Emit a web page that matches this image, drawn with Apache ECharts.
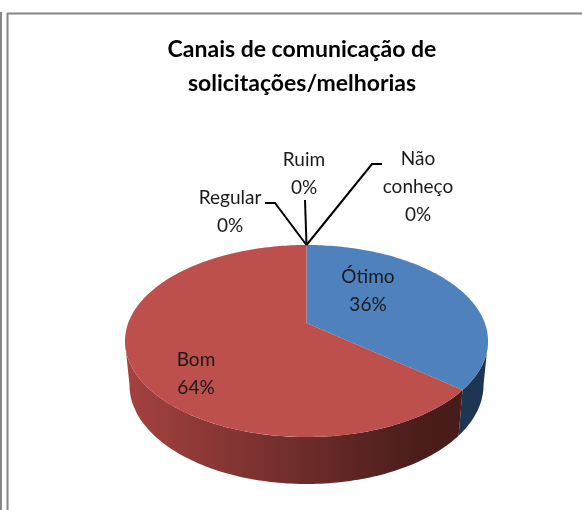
<!DOCTYPE html>
<html>
<head>
<meta charset="utf-8">
<style>html,body{margin:0;padding:0;background:#fff}#c{width:582px;height:510px}</style>
<script src="https://cdn.jsdelivr.net/npm/echarts@6/dist/echarts.min.js"></script>
</head>
<body>
<div id="c"></div>
<script>
const titleLines = ['Canais de comunicação de', 'solicitações/melhorias'];
const categories = ['Ótimo', 'Bom', 'Regular', 'Ruim', 'Não\nconheço'];
const values = [36, 64, 0, 0, 0];
const topColors = ['#4f81bd', '#bd4f4c', '#9bbb59', '#8064a2', '#4bacc6'];

// Placement of the hand-positioned labels and their leader lines
const labelAt = [[368, 291], [196, 374], [230, 212], [304, 174], [418, 186.5]];
const leaderVia = [null, null, [[275, 203], [265, 203]], [[305, 200]], [[372, 164], [382, 164]]];

// Perspective view of the disc
const view = { cx: 306.5, r: 178.3, b: 323, a: 32.06, c: -0.1875,
               ecy: 341, erx: 181.5, ery: 96, bcy: 385, brx: 177, bry: 99 };

function topPoint(t) {
  const u = Math.sin(t), v = -Math.cos(t), w = 1 + view.c * v;
  return [view.cx + view.r * u / w, (view.a * v + view.b) / w];
}
function bottomPoint(t) {
  const p = topPoint(t);
  return [view.cx + view.brx * (p[0] - view.cx) / view.erx,
          view.bcy + view.bry * (p[1] - view.ecy) / view.ery];
}
const total = values.reduce((a, b) => a + b, 0);
const TAU = Math.PI * 2;
function angles(i) {
  let s = 0;
  for (let k = 0; k < i; k++) s += values[k];
  return [s / total * TAU, (s + values[i]) / total * TAU];
}
// disc angles where the visible rim starts and ends
const rimStart = 1.76, rimEnd = TAU - 1.76;

function arc(fn, a, b) {
  const n = Math.max(2, Math.ceil(Math.abs(b - a) / 0.02)), pts = [];
  for (let i = 0; i <= n; i++) pts.push(fn(a + (b - a) * i / n));
  return pts;
}
function wallFill(i) {
  if (i === 0) return '#1d3550';
  return new echarts.graphic.LinearGradient(125, 0, 470, 0, [
    { offset: 0, color: '#a5423f' },
    { offset: 0.5, color: '#6f2d2b' },
    { offset: 0.85, color: '#4a1d1b' },
    { offset: 1, color: '#481c1a' }
  ], true);
}
function renderItem(params) {
  const i = params.dataIndex, [a, b] = angles(i), children = [];
  if (values[i] > 0) {
    const wa = Math.max(a, rimStart), wb = Math.min(b, rimEnd);
    if (wb > wa) {
      children.push({ type: 'polygon',
        shape: { points: arc(topPoint, wa, wb).concat(arc(bottomPoint, wb, wa)) },
        style: { fill: wallFill(i) } });
    }
    children.push({ type: 'polygon',
      shape: { points: [[view.cx, view.b]].concat(arc(topPoint, a, b)) },
      style: { fill: topColors[i] } });
  }
  if (leaderVia[i]) {
    children.push({ type: 'polyline',
      shape: { points: [topPoint(a)].concat(leaderVia[i]) },
      style: { stroke: '#000', lineWidth: 2, fill: null } });
  }
  children.push({ type: 'text',
    style: { text: categories[i] + '\n' + Math.round(values[i] / total * 100) + '%',
      x: labelAt[i][0], y: labelAt[i][1], align: 'center', verticalAlign: 'middle',
      fill: '#1a1a1a', fontFamily: 'Lato', fontSize: 19, lineHeight: 28 } });
  return { type: 'group', children };
}
const chart = echarts.init(document.getElementById('c'), null, { renderer: 'canvas' });
chart.setOption({
  animation: false,
  backgroundColor: '#fff',
  title: { text: titleLines.join('\n'), left: 302, top: 33, padding: 0, textAlign: 'center',
    textStyle: { fontFamily: 'Lato', fontWeight: 'bold', fontSize: 23, lineHeight: 34, color: '#000' } },
  graphic: [
    { type: 'line', shape: { x1: 1, y1: 12, x2: 1, y2: 510 }, style: { stroke: '#868686', lineWidth: 2 } },
    { type: 'line', shape: { x1: 7.5, y1: 13, x2: 7.5, y2: 510 }, style: { stroke: '#868686', lineWidth: 2 } },
    { type: 'line', shape: { x1: 7, y1: 13.5, x2: 582, y2: 13.5 }, style: { stroke: '#868686', lineWidth: 2 } }
  ],
  series: [{ type: 'custom', coordinateSystem: 'none', renderItem, data: values, silent: true }]
});
</script>
</body>
</html>
